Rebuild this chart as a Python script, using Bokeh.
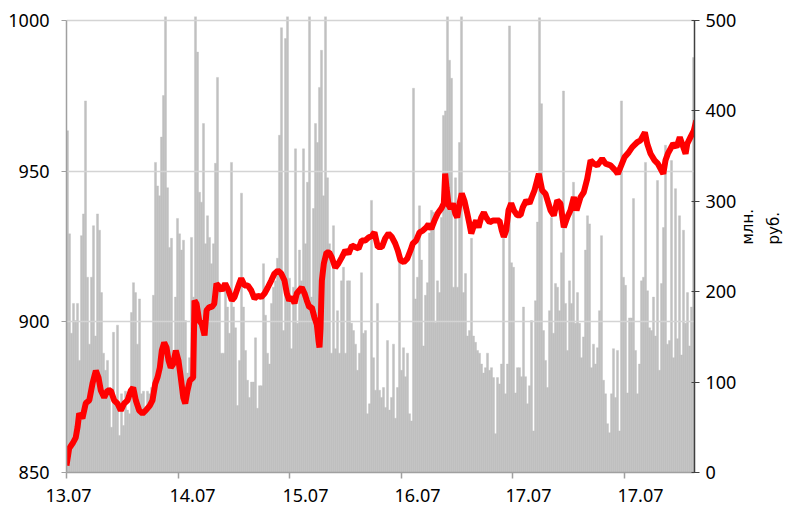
import math
import numpy as np
from bokeh.plotting import figure
from bokeh.models import Range1d, LinearAxis, FixedTicker
from bokeh.embed import file_html
from bokeh.resources import INLINE

# ---------------- data ----------------
day_labels = ["13.07", "14.07", "15.07", "16.07", "17.07", "17.07"]
price_ticks = [850, 900, 950, 1000]
volume_ticks = [0, 100, 200, 300, 400, 500]
axis_title = ["млн.", "руб."]

# traded volume, mln rub (bars, in time order)
vol_a = [378, 264, 154, 187, 168, 187, 124, 262, 286, 411,
         216, 142, 216, 273, 151, 286, 268, 199, 132, 113,
         124, 94, 50, 155, 76, 163, 41, 87, 52, 90,
         69, 65, 177, 210, 199, 142, 192, 87, 90, 69,
         90, 87, 94, 196, 343, 317, 306, 371, 417, 505,
         315, 249, 259, 127, 194, 281, 264, 246, 257, 168,
         110, 127, 260, 194, 505, 465, 310, 299, 386, 253,
         284, 260, 231, 253, 342, 437, 209, 132]
vol_b = [132, 205, 183, 154, 343, 183, 160, 74, 124, 309,
         183, 135, 102, 83, 100, 100, 149, 71, 96, 96,
         231, 174, 132, 120, 187, 205, 212, 237, 373, 492,
         157, 480, 505, 215, 137, 205, 358, 165, 246, 212,
         358, 253, 321, 505, 194, 292, 386, 365, 426, 467,
         306, 505, 326, 253, 132, 273, 137, 179, 132, 212,
         227, 132, 212, 212, 165, 157, 142, 113, 132, 221,
         154, 157, 65, 76, 301, 127, 91, 187]
vol_c = [91, 83, 94, 72, 146, 69, 83, 142, 60, 94,
         238, 113, 138, 106, 132, 65, 57, 425, 192, 216,
         295, 235, 140, 196, 210, 265, 290, 288, 166, 212,
         199, 282, 395, 400, 505, 456, 436, 205, 326, 205,
         365, 505, 199, 220, 151, 157, 259, 151, 144, 135,
         132, 120, 110, 116, 132, 113, 116, 105, 43, 105,
         98, 120, 259, 87, 120, 494, 232, 227, 88, 116,
         116, 106, 183, 106, 76, 96, 168, 46]
vol_d = [190, 277, 503, 408, 157, 124, 94, 179, 282, 154,
         209, 205, 179, 243, 422, 187, 135, 212, 187, 321,
         165, 199, 165, 127, 150, 246, 284, 275, 116, 142,
         120, 138, 179, 262, 102, 87, 54, 44, 87, 137,
         83, 135, 46, 411, 216, 207, 88, 171, 171, 303,
         135, 87, 120, 212, 216, 343, 201, 160, 157, 194,
         151, 323, 113, 209, 271, 362, 142, 146, 345, 127,
         314, 148, 284, 130, 268, 165, 199, 140, 183, 459]

# price (line): time in days from start of 13.07, value
time_a = [0.000, 0.024, 0.054, 0.083, 0.099, 0.114, 0.143, 0.173, 0.204, 0.233,
          0.263, 0.287, 0.308, 0.338, 0.368, 0.397, 0.428, 0.457, 0.487, 0.517,
          0.547, 0.577, 0.598, 0.622, 0.652, 0.682, 0.711, 0.747, 0.771, 0.796,
          0.816, 0.837, 0.855, 0.876, 0.897, 0.915, 0.935, 0.957, 0.980, 1.004,
          1.025, 1.047, 1.065, 1.085, 1.106, 1.136, 1.148, 1.166, 1.190, 1.213,
          1.238, 1.256, 1.280, 1.303, 1.325, 1.345, 1.370, 1.393]
price_a = [852.3, 858.0, 859.6, 861.6, 865.0, 869.6, 868.0, 873.0, 873.9, 879.5,
           883.8, 881.5, 877.2, 874.9, 877.2, 877.2, 873.9, 872.9, 870.6, 872.9,
           873.9, 877.2, 878.2, 873.9, 870.6, 869.6, 870.6, 872.2, 873.9, 879.5,
           881.5, 884.8, 890.5, 893.1, 891.5, 887.2, 884.8, 886.0, 890.5, 887.2,
           881.5, 874.9, 872.9, 877.2, 880.5, 881.5, 907.1, 906.0, 900.4, 899.3,
           895.5, 903.8, 904.9, 904.9, 906.0, 912.7, 911.6, 910.4]
time_b = [1.423, 1.453, 1.483, 1.507, 1.527, 1.549, 1.567, 1.596, 1.626, 1.657,
          1.686, 1.716, 1.746, 1.776, 1.805, 1.836, 1.865, 1.895, 1.926, 1.955,
          1.976, 1.997, 2.021, 2.045, 2.065, 2.087, 2.110, 2.135, 2.155, 2.177,
          2.200, 2.224, 2.245, 2.260, 2.269, 2.278, 2.290, 2.308, 2.332, 2.356,
          2.379, 2.410, 2.439, 2.469, 2.500, 2.529, 2.559, 2.589, 2.619, 2.648,
          2.679, 2.709, 2.738, 2.762, 2.792]
price_b = [912.7, 910.4, 907.1, 908.2, 910.4, 912.7, 914.4, 912.1, 912.1, 910.4,
           907.7, 908.7, 908.2, 909.4, 911.4, 913.7, 916.0, 917.0, 916.0, 913.7,
           909.4, 907.1, 908.2, 906.1, 909.4, 910.4, 911.4, 909.4, 907.1, 904.8,
           904.8, 901.4, 899.1, 893.8, 891.5, 897.8, 913.7, 919.4, 923.0, 923.0,
           921.4, 918.0, 919.4, 921.4, 923.7, 922.6, 925.3, 924.8, 924.3, 927.0,
           927.0, 928.0, 928.5, 929.7, 924.8]
time_c = [2.828, 2.858, 2.888, 2.917, 2.948, 2.971, 2.996, 3.025, 3.056, 3.085,
          3.106, 3.136, 3.166, 3.196, 3.226, 3.247, 3.271, 3.300, 3.330, 3.361,
          3.384, 3.396, 3.408, 3.426, 3.444, 3.465, 3.486, 3.504, 3.525, 3.545,
          3.570, 3.594, 3.614, 3.630, 3.653, 3.674, 3.695, 3.719, 3.743, 3.764,
          3.794, 3.823, 3.854, 3.883, 3.904, 3.922, 3.943, 3.964, 3.988, 4.012,
          4.042, 4.072, 4.092, 4.123, 4.152, 4.173, 4.197]
price_c = [924.8, 927.7, 929.3, 928.2, 926.0, 923.7, 920.4, 919.8, 921.0, 923.7,
           926.0, 927.0, 929.7, 930.3, 931.3, 932.4, 930.8, 933.6, 936.0, 937.6,
           939.3, 949.2, 944.6, 938.8, 937.6, 939.3, 936.0, 934.6, 939.3, 942.6,
           940.0, 936.0, 932.4, 929.3, 931.9, 933.6, 931.3, 934.6, 936.3, 934.6,
           933.0, 933.6, 933.6, 933.6, 930.3, 928.2, 930.3, 937.0, 939.3, 937.0,
           935.4, 935.4, 938.0, 940.3, 939.3, 941.4, 943.6]
time_d = [4.236, 4.266, 4.296, 4.341, 4.370, 4.401, 4.430, 4.460, 4.491, 4.520,
          4.550, 4.574, 4.610, 4.639, 4.670, 4.700, 4.729, 4.760, 4.804, 4.834,
          4.879, 4.924, 4.944, 4.975, 5.004, 5.043, 5.074, 5.118, 5.148, 5.187,
          5.208, 5.238, 5.274, 5.303, 5.352, 5.372, 5.393, 5.441, 5.471, 5.500,
          5.552, 5.567, 5.596, 5.626, 5.648]
price_d = [949.1, 943.6, 942.5, 937.0, 935.3, 940.3, 939.2, 931.4, 934.7, 937.0,
           941.4, 937.0, 941.4, 943.0, 947.5, 953.6, 952.5, 951.9, 954.1, 952.5,
           951.9, 950.2, 949.1, 951.9, 954.6, 956.3, 958.0, 959.6, 960.2, 962.9,
           959.1, 955.8, 953.6, 952.5, 949.1, 953.6, 955.8, 959.1, 958.0, 961.3,
           955.8, 959.1, 961.3, 963.5, 966.8]

volume = vol_a + vol_b + vol_c + vol_d
price_time = time_a + time_b + time_c + time_d
price = price_a + price_b + price_c + price_d

# ---------------- layout ----------------
X_END = 5.632            # visible span in days
FONT = "Noto Sans"
TITLE_FONT = "DejaVu Sans"
n = len(volume)
step = X_END / n
bar_x = (np.arange(n) + 0.5) * step

p = figure(frame_width=628, frame_height=456,
           min_border_left=66, min_border_right=91,
           min_border_top=16, min_border_bottom=38,
           x_range=Range1d(0, X_END), y_range=Range1d(850, 1001.33),
           output_backend="svg", toolbar_location=None)
p.extra_y_ranges = {"vol": Range1d(0, 504.4)}
p.outline_line_color = None
p.background_fill_color = "white"
p.border_fill_color = "white"

bars = p.vbar(x=bar_x, top=volume, bottom=0, width=step * 1.02,
              y_range_name="vol", fill_color="#C0C0C0",
              line_color="#C0C0C0", line_width=0.4)
bars.level = "image"

p.line(price_time, price, line_color="#FF0000", line_width=6)

# grid
p.xgrid.visible = False
p.ygrid.ticker = FixedTicker(ticks=price_ticks)
p.ygrid.grid_line_color = "#D4D4D4"
p.ygrid.grid_line_width = 1.5

# left axis
ly = p.yaxis[0]
ly.ticker = FixedTicker(ticks=price_ticks)
ly.bounds = (850, 1000)
ly.axis_line_color = "#A0A0A0"
ly.axis_line_width = 1.5
ly.major_tick_line_color = "#A0A0A0"
ly.major_tick_out = 5
ly.major_tick_in = 0
ly.minor_tick_line_color = None
ly.major_label_standoff = 12

# right axis (volume) with first title line
ry = LinearAxis(y_range_name="vol", ticker=FixedTicker(ticks=volume_ticks),
                bounds=(0, 500))
ry.axis_line_color = "#404040"
ry.axis_line_width = 1.5
ry.major_tick_line_color = "#404040"
ry.major_tick_out = 5
ry.major_tick_in = 3
ry.minor_tick_line_color = None
ry.major_label_standoff = 6
ry.axis_label = axis_title[0]
ry.axis_label_orientation = math.pi / 2
ry.axis_label_standoff = 9
p.add_layout(ry, "right")

# second title line on an extra right axis that has no ticks
ry2 = LinearAxis(y_range_name="vol", ticker=FixedTicker(ticks=[]))
ry2.axis_line_color = None
ry2.major_tick_line_color = None
ry2.minor_tick_line_color = None
ry2.major_tick_out = 0
ry2.major_tick_in = 0
ry2.major_label_standoff = 0
ry2.axis_label = axis_title[1]
ry2.axis_label_orientation = math.pi / 2
ry2.axis_label_standoff = 4
p.add_layout(ry2, "right")

for ax in (ry, ry2):
    ax.axis_label_text_font = TITLE_FONT
    ax.axis_label_text_font_size = "15px"
    ax.axis_label_text_font_style = "normal"
    ax.axis_label_text_color = "black"

# bottom axis: day labels at their positions, day-boundary tick marks as minor ticks
label_x = [0.018, 1.130, 2.143, 3.148, 4.143, 5.148]
bx = p.xaxis[0]
bx.ticker = FixedTicker(ticks=label_x, minor_ticks=list(range(len(day_labels))))
bx.major_label_overrides = {lx: t for lx, t in zip(label_x, day_labels)}
bx.axis_line_color = "#A0A0A0"
bx.axis_line_width = 1.5
bx.major_tick_line_color = None
bx.major_tick_out = 6
bx.major_tick_in = 0
bx.minor_tick_line_color = "#A0A0A0"
bx.minor_tick_line_width = 1.5
bx.minor_tick_out = 6
bx.minor_tick_in = 0
bx.major_label_standoff = 10

for ax in (ly, ry, bx):
    ax.major_label_text_font = FONT
    ax.major_label_text_font_size = "18px"
    ax.major_label_text_color = "black"

open("out.html", "w").write(file_html(p, INLINE))
